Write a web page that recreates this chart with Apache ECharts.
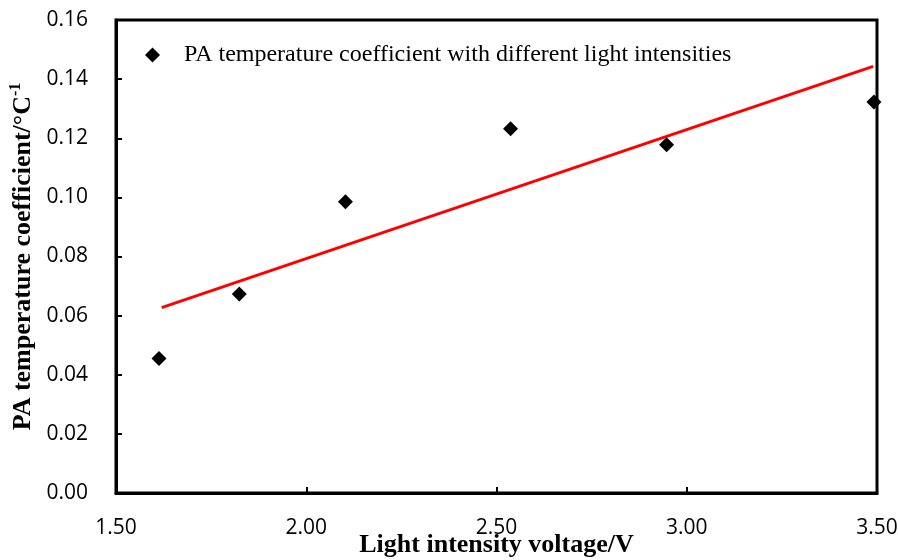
<!DOCTYPE html>
<html>
<head>
<meta charset="utf-8">
<script src="https://cdn.jsdelivr.net/npm/echarts@6/dist/echarts.min.js"></script>
<style>
  html, body { margin: 0; padding: 0; background: #fff; }
  #chart { width: 898px; height: 560px; }
</style>
</head>
<body>
<div id="chart"></div>
<script>
// measured points (light intensity voltage / V, PA temperature coefficient)
var voltage = [1.613, 1.824, 2.103, 2.537, 2.947, 3.492];
var coeff = [0.0455, 0.0673, 0.0985, 0.1232, 0.1178, 0.1323];
// linear trend line, drawn between its two end points
var trendX = [1.62, 3.49];
var trendY = [0.0627, 0.1443];

var xTicks = ['1.50', '2.00', '2.50', '3.00', '3.50'];

var chart = echarts.init(document.getElementById('chart'));

var pts = voltage.map(function (v, i) { return [v, coeff[i]]; });
var trend = trendX.map(function (v, i) { return [v, trendY[i]]; });

var option = {
    animation: false,
    grid: {
        left: 116,
        right: 21,
        top: 20,
        bottom: 67,
        outerBoundsMode: 'none',
        containLabel: false,
        show: true,
        borderColor: '#000',
        borderWidth: 3
    },
    legend: {
        data: ['PA temperature coefficient with different light intensities'],
        left: 140,
        top: 38,
        itemWidth: 15,
        itemHeight: 15,
        textStyle: {
            fontFamily: 'Liberation Serif',
            fontSize: 24,
            color: '#000',
            padding: [0, 0, 0, 19]
        }
    },
    xAxis: {
        type: 'value',
        min: 1.5,
        max: 3.5,
        interval: 0.5,
        name: 'Light intensity voltage/V',
        nameLocation: 'middle',
        nameGap: 39,
        nameMoveOverlap: false,
        nameTextStyle: {
            fontFamily: 'Liberation Serif',
            fontWeight: 'bold',
            fontSize: 26,
            color: '#000'
        },
        axisLine: { lineStyle: { color: '#000', width: 3 } },
        axisTick: { inside: true, length: 6, lineStyle: { color: '#000', width: 2 } },
        axisLabel: {
            margin: 25,
            fontFamily: 'Open Sans',
            fontSize: 21,
            color: '#000',
            formatter: function (v) { return xTicks[Math.round((v - 1.5) / 0.5)] || v.toFixed(2); }
        },
        splitLine: { show: false }
    },
    yAxis: {
        type: 'value',
        min: 0,
        max: 0.16,
        interval: 0.02,
        name: '{a|PA temperature coefficient/°C}{s|-1}',
        nameLocation: 'middle',
        nameGap: 78,
        nameMoveOverlap: false,
        nameTextStyle: {
            color: '#000',
            rich: {
                a: { fontFamily: 'Liberation Serif', fontWeight: 'bold', fontSize: 26, lineHeight: 30, color: '#000' },
                s: { fontFamily: 'Liberation Serif', fontWeight: 'bold', fontSize: 16, lineHeight: 16, verticalAlign: 'top', color: '#000' }
            }
        },
        axisLine: { lineStyle: { color: '#000', width: 3 } },
        axisTick: { inside: true, length: 6, lineStyle: { color: '#000', width: 2 } },
        axisLabel: {
            margin: 28,
            fontFamily: 'Open Sans',
            fontSize: 21,
            color: '#000',
            formatter: function (v) { return v.toFixed(2); }
        },
        splitLine: { show: false }
    },
    series: [
        {
            name: 'PA temperature coefficient with different light intensities',
            type: 'scatter',
            symbol: 'diamond',
            symbolSize: 15,
            itemStyle: { color: '#000', opacity: 1 },
            data: pts,
            z: 3
        },
        {
            name: 'trend',
            type: 'line',
            showSymbol: false,
            symbol: 'none',
            lineStyle: { color: '#ff0000', width: 3 },
            data: trend,
            z: 2
        }
    ]
};

chart.setOption(option);
</script>
</body>
</html>
